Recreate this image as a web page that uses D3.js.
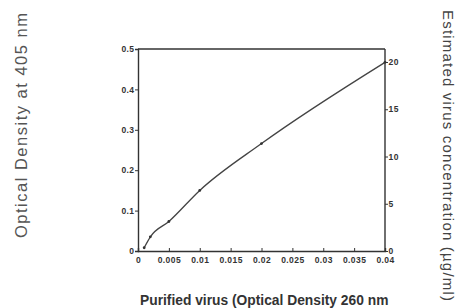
<!DOCTYPE html>
<html><head><meta charset="utf-8">
<script src="https://cdn.jsdelivr.net/npm/d3@7"></script>
<style>body{margin:0;background:#fff}svg{display:block}</style>
</head><body>
<script>
const xValues = [0.001, 0.002, 0.005, 0.01, 0.02, 0.04];
const yValues = [0.008, 0.035, 0.073, 0.15, 0.266, 0.467];
const xTicks = [0, 0.005, 0.01, 0.015, 0.02, 0.025, 0.03, 0.035, 0.04];
const xTickLabels = ["0", "0.005", "0.01", "0.015", "0.02", "0.025", "0.03", "0.035", "0.04"];
const yTicks = [0, 0.1, 0.2, 0.3, 0.4, 0.5];
const yTickLabels = ["0", "0.1", "0.2", "0.3", "0.4", "0.5"];
const y2Ticks = [0, 5, 10, 15, 20];

const W = 462, H = 308;
const svg = d3.select("body").append("svg").attr("width", W).attr("height", H);
const x = d3.scaleLinear().domain([0, 0.04]).range([138, 385]);
const y = d3.scaleLinear().domain([0, 0.5]).range([251, 49]);
const y2 = d3.scaleLinear().domain([0, 20]).range([251, 62]);
const ink = "#333";

const fontTick = "Liberation Sans, Arial, sans-serif";

// left axis
const gL = svg.append("g").attr("transform", `translate(${x(0)},0)`)
  .call(d3.axisLeft(y).tickValues(yTicks).tickFormat((d,i)=>yTickLabels[i]).tickSize(3).tickPadding(0.5));
// bottom axis (ticks inward)
const gB = svg.append("g").attr("transform", `translate(0,${y(0)})`)
  .call(d3.axisBottom(x).tickValues(xTicks).tickFormat((d,i)=>xTickLabels[i]).tickSize(-3).tickPadding(6));
// right axis
const gR = svg.append("g").attr("transform", `translate(${x(0.04)},0)`)
  .call(d3.axisRight(y2).tickValues(y2Ticks).tickSize(3).tickPadding(0.5));
gR.select(".domain").attr("d", `M0,${y(0)}V${y(0.5)}`);
[gL, gB, gR].forEach(g => {
  g.select(".domain").attr("stroke", ink).attr("stroke-width", 1.4);
  g.selectAll(".tick line").attr("stroke", ink).attr("stroke-width", 1);
  g.selectAll("text").attr("fill", ink).attr("font-family", fontTick)
    .attr("font-size", 8.5).attr("font-weight", "bold").attr("letter-spacing", 0.4);
});
// top frame
svg.append("line").attr("x1", x(0)).attr("x2", x(0.04)).attr("y1", y(0.5)).attr("y2", y(0.5))
  .attr("stroke", ink).attr("stroke-width", 1.4);

// data curve
const pts = xValues.map((v,i)=>[v, yValues[i]]);
svg.append("path").datum(pts)
  .attr("d", d3.line().x(d=>x(d[0])).y(d=>y(d[1])).curve(d3.curveMonotoneX))
  .attr("fill", "none").attr("stroke", "#444").attr("stroke-width", 1.3);
svg.selectAll("circle.pt").data(pts).enter().append("circle")
  .attr("cx", d=>x(d[0])).attr("cy", d=>y(d[1])).attr("r", 1.4).attr("fill", "#333");

// axis titles
svg.append("text").attr("transform", "translate(27,238) rotate(-90)")
  .attr("text-anchor", "start").attr("font-family", "Liberation Sans, Arial, sans-serif")
  .attr("font-size", 16.5).attr("textLength", 225).attr("lengthAdjust", "spacing")
  .attr("fill", "#555").text("Optical Density at 405 nm");
svg.append("text").attr("transform", "translate(443,10) rotate(90)")
  .attr("text-anchor", "start").attr("font-family", "Liberation Sans, Arial, sans-serif")
  .attr("font-size", 15).attr("textLength", 291).attr("lengthAdjust", "spacing")
  .attr("fill", "#444").text("Estimated virus concentration (\u00b5g/ml)");
svg.append("text").attr("x", 140).attr("y", 305)
  .attr("font-family", "Liberation Sans, Arial, sans-serif").attr("font-weight", "bold")
  .attr("font-size", 13.8).attr("fill", "#333").text("Purified virus (Optical Density 260 nm");
</script>
</body></html>
